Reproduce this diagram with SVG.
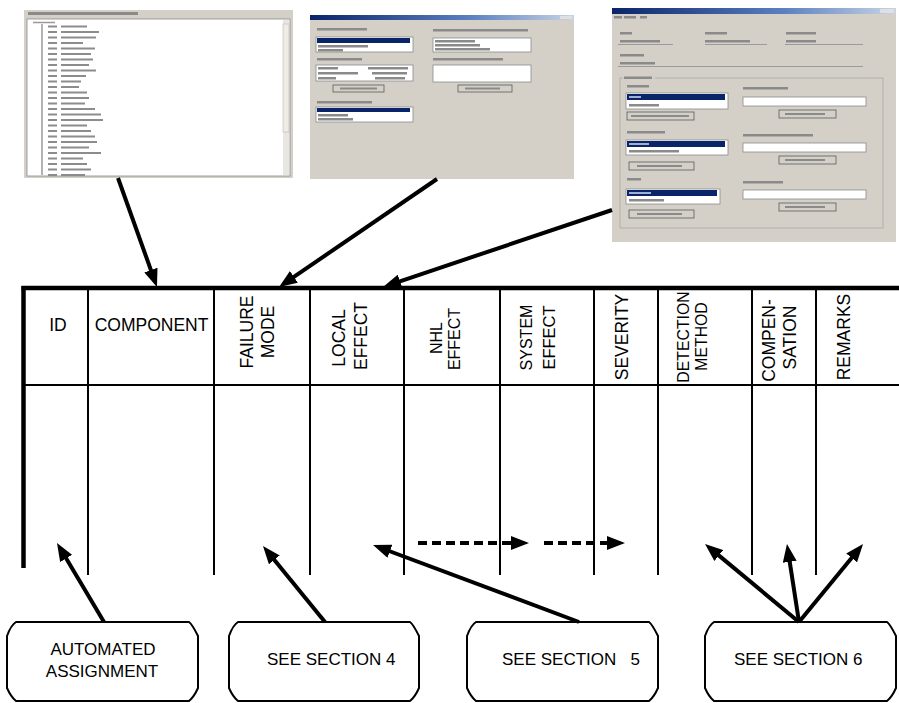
<svg xmlns="http://www.w3.org/2000/svg" width="899" height="703" viewBox="0 0 899 703">
<style>
.win{fill:#d4d0c8}
.wt{fill:#fff;stroke:#8a8a8a;stroke-width:0.8}
.tx{fill:#8a8a8a}
.sel{fill:#0a246a}
.btn{fill:#d4d0c8;stroke:#5a5a5a;stroke-width:0.8}
.thin{stroke:#000;stroke-width:2;fill:none}
.thick{stroke:#000;stroke-width:4.5;fill:none}
.hd{font-family:"Liberation Sans",Arial,sans-serif;font-size:17.5px;fill:#000}
.bt{font-family:"Liberation Sans",Arial,sans-serif;font-size:17px;fill:#000}
.box{fill:#fff;stroke:#000;stroke-width:2}
.arr{stroke:#000;stroke-width:4;fill:none;marker-end:url(#ah)}
.dash{stroke:#000;stroke-width:4;fill:none;stroke-dasharray:9 5;marker-end:url(#ah)}
</style>
<defs>
<linearGradient id="tb" x1="0" y1="0" x2="1" y2="0">
<stop offset="0" stop-color="#0a246a"/>
<stop offset="0.6" stop-color="#5a7fc0"/>
<stop offset="1" stop-color="#c8d4e4"/>
</linearGradient>
<marker id="ah" viewBox="0 0 18 14" markerWidth="18" markerHeight="14" markerUnits="userSpaceOnUse" refX="8" refY="7" orient="auto">
<path d="M0,0 L18,7 L0,14 z" fill="#000"/>
</marker>
</defs>
<rect width="899" height="703" fill="#fff"/>

<g id="screen1">
<rect class="win" x="24" y="10" width="269" height="168"/>
<rect class="tx" x="28" y="12" width="110" height="3"/>
<rect class="wt" x="27" y="19" width="263" height="157"/>
<rect x="283" y="20" width="6" height="155" fill="#e8e6e0"/>
<rect x="283" y="24" width="6" height="108" fill="#efece6" stroke="#b8b8b8" stroke-width="0.6"/>
<path d="M33,22.5 h22 M42,24 V175" stroke="#9a9a9a" stroke-width="1.5" fill="none"/>
<path d="M48,26.5h9M61,26.5h26 M48,32h9M61,32h38 M48,37.5h9M61,37.5h35 M48,43h9M61,43h22 M48,48.5h9M61,48.5h34 M48,54h9M61,54h30 M48,59.5h9M61,59.5h32 M48,65h9M61,65h28 M48,70.5h9M61,70.5h35 M48,76h9M61,76h25 M48,81.5h9M61,81.5h20 M48,87h9M61,87h18 M48,92.5h9M61,92.5h26 M48,98h9M61,98h28 M48,103.5h9M61,103.5h24 M48,109h9M61,109h34 M48,114.5h9M61,114.5h40 M48,120h9M61,120h42 M48,125.5h9M61,125.5h26 M48,131h9M61,131h30 M48,136.5h9M61,136.5h34 M48,142h9M61,142h36 M48,147.5h9M61,147.5h28 M48,153h9M61,153h40 M48,158.5h9M61,158.5h22 M48,164h9M61,164h26 M48,169.5h9M61,169.5h30 M48,175h9M61,175h24" stroke="#8c8c8c" stroke-width="2" fill="none"/>
</g>

<g id="screen2">
<rect class="win" x="310" y="15" width="264" height="164"/>
<rect x="310" y="15" width="264" height="5" fill="url(#tb)"/>
<rect x="560" y="16" width="12" height="3" fill="#e0e0e0"/>
<rect class="tx" x="317" y="28" width="50" height="2.5"/>
<rect class="wt" x="316" y="37" width="97" height="15"/>
<rect class="sel" x="317" y="38" width="93" height="5"/>
<rect class="tx" x="318" y="45" width="50" height="2.5"/>
<rect class="tx" x="318" y="49" width="25" height="2.5"/>
<rect class="tx" x="317" y="58" width="45" height="2.5"/>
<rect class="wt" x="316" y="65" width="97" height="16"/>
<rect class="tx" x="318" y="67" width="20" height="2.5"/>
<rect class="tx" x="368" y="67" width="40" height="2.5"/>
<rect class="tx" x="318" y="72" width="40" height="2.5"/>
<rect class="tx" x="372" y="72" width="35" height="2.5"/>
<rect class="tx" x="318" y="77" width="18" height="2.5"/>
<rect class="tx" x="375" y="77" width="30" height="2.5"/>
<rect class="btn" x="333" y="85" width="51" height="7"/>
<rect class="tx" x="340" y="87.5" width="37" height="2"/>
<rect class="tx" x="317" y="101" width="55" height="2.5"/>
<rect class="wt" x="316" y="107" width="97" height="15"/>
<rect class="sel" x="317" y="108" width="93" height="4"/>
<rect class="tx" x="318" y="114" width="30" height="2.5"/>
<rect class="tx" x="318" y="118" width="35" height="2.5"/>
<rect class="tx" x="433" y="29" width="95" height="2.5"/>
<rect class="wt" x="433" y="38" width="98" height="14"/>
<rect class="tx" x="435" y="40" width="40" height="2.5"/>
<rect class="tx" x="435" y="44" width="45" height="2.5"/>
<rect class="tx" x="435" y="48" width="55" height="2.5"/>
<rect class="tx" x="433" y="58" width="70" height="2.5"/>
<rect class="wt" x="433" y="65" width="98" height="17"/>
<rect class="btn" x="458" y="85" width="54" height="7"/>
<rect class="tx" x="465" y="87.5" width="35" height="2"/>
</g>

<g id="screen3">
<rect class="win" x="612" y="8" width="284" height="234"/>
<rect x="612" y="8" width="284" height="6" fill="url(#tb)"/>
<rect x="880" y="9" width="14" height="4" fill="#e0e0e0"/>
<rect class="tx" x="614" y="16" width="8" height="2.5"/>
<rect class="tx" x="624" y="16" width="12" height="2.5"/>
<rect class="tx" x="640" y="16" width="7" height="2.5"/>
<rect class="tx" x="620" y="32" width="12" height="2.5"/>
<rect class="tx" x="705" y="32" width="22" height="2.5"/>
<rect class="tx" x="786" y="32" width="30" height="2.5"/>
<rect class="tx" x="620" y="40" width="40" height="2.5"/>
<rect class="tx" x="705" y="40" width="45" height="2.5"/>
<rect class="tx" x="786" y="40" width="30" height="2.5"/>
<path d="M618,44.5H673M705,44.5H767M785,44.5H863M618,66.5H863" stroke="#9a9a9a" stroke-width="1" fill="none"/>
<rect class="tx" x="620" y="54" width="24" height="2.5"/>
<rect class="tx" x="620" y="62" width="35" height="2.5"/>
<rect x="620" y="78" width="263" height="150" fill="none" stroke="#a8a8a8" stroke-width="0.8"/>
<rect class="win" x="623" y="76" width="32" height="4"/>
<rect class="tx" x="624" y="76.5" width="28" height="2.5"/>
<rect class="tx" x="627" y="85" width="22" height="2.5"/>
<rect class="wt" x="626" y="93" width="102" height="16"/>
<rect class="sel" x="627" y="94" width="98" height="6"/>
<rect x="629" y="96" width="12" height="2" fill="#9fb0d0"/>
<rect class="tx" x="629" y="104" width="30" height="2.5"/>
<rect class="btn" x="627" y="112" width="67" height="8"/>
<rect class="tx" x="631" y="115" width="58" height="2"/>
<rect class="tx" x="627" y="131" width="38" height="2.5"/>
<rect class="wt" x="626" y="140" width="102" height="15"/>
<rect class="sel" x="627" y="141" width="98" height="6"/>
<rect x="629" y="143" width="20" height="2" fill="#9fb0d0"/>
<rect class="tx" x="629" y="150" width="50" height="2.5"/>
<rect class="btn" x="629" y="162" width="65" height="8"/>
<rect class="tx" x="637" y="165" width="45" height="2"/>
<rect class="tx" x="627" y="178" width="14" height="2.5"/>
<rect class="wt" x="626" y="189" width="94" height="15"/>
<rect class="sel" x="627" y="190" width="90" height="6"/>
<rect x="629" y="192" width="22" height="2" fill="#9fb0d0"/>
<rect class="tx" x="629" y="199" width="35" height="2.5"/>
<rect class="btn" x="629" y="210" width="65" height="8"/>
<rect class="tx" x="637" y="213" width="45" height="2"/>
<rect class="tx" x="743" y="87" width="45" height="2.5"/>
<rect class="wt" x="743" y="97" width="123" height="9"/>
<rect class="btn" x="779" y="110" width="57" height="8"/>
<rect class="tx" x="785" y="113" width="40" height="2"/>
<rect class="tx" x="743" y="134" width="70" height="2.5"/>
<rect class="wt" x="743" y="143" width="123" height="9"/>
<rect class="btn" x="779" y="156" width="57" height="8"/>
<rect class="tx" x="785" y="159" width="40" height="2"/>
<rect class="tx" x="743" y="181" width="40" height="2.5"/>
<rect class="wt" x="743" y="190" width="123" height="9"/>
<rect class="btn" x="779" y="203" width="57" height="8"/>
<rect class="tx" x="785" y="206" width="40" height="2"/>
</g>

<g id="table">
<path class="thick" d="M21.5,288H899"/>
<path class="thick" d="M23.5,286V568" stroke-width="4"/>
<path class="thin" d="M23,385H899 M88,288V575 M214,288V575 M310,288V575 M404,288V575 M500,288V575 M594,288V575 M658,288V575 M752,288V575 M816,288V575"/>
<text class="hd" x="58" y="331" text-anchor="middle">ID</text>
<text class="hd" x="151.5" y="331" text-anchor="middle">COMPONENT</text>
<text class="hd" text-anchor="middle" transform="translate(252.5,332) rotate(-90)">FAILURE</text>
<text class="hd" text-anchor="middle" transform="translate(273.5,332) rotate(-90)">MODE</text>
<text class="hd" text-anchor="middle" transform="translate(344.5,338) rotate(-90)">LOCAL</text>
<text class="hd" text-anchor="middle" transform="translate(366.5,336) rotate(-90)">EFFECT</text>
<text class="hd" text-anchor="middle" style="font-size:16px" transform="translate(441.5,338) rotate(-90)">NHL</text>
<text class="hd" text-anchor="middle" style="font-size:16px" transform="translate(459.5,339) rotate(-90)">EFFECT</text>
<text class="hd" text-anchor="middle" style="font-size:16px" transform="translate(532,337.5) rotate(-90)">SYSTEM</text>
<text class="hd" text-anchor="middle" style="font-size:16.5px" transform="translate(554.5,337.5) rotate(-90)">EFFECT</text>
<text class="hd" text-anchor="middle" transform="translate(628,337) rotate(-90)">SEVERITY</text>
<text class="hd" text-anchor="middle" style="font-size:15.8px" transform="translate(688.5,337) rotate(-90)">DETECTION</text>
<text class="hd" text-anchor="middle" style="font-size:15.8px" transform="translate(707,336.5) rotate(-90)">METHOD</text>
<text class="hd" text-anchor="middle" transform="translate(775,340.5) rotate(-90)">COMPEN-</text>
<text class="hd" text-anchor="middle" transform="translate(796,337.5) rotate(-90)">SATION</text>
<text class="hd" text-anchor="middle" transform="translate(850,337) rotate(-90)">REMARKS</text>
</g>

<g id="box-automated">
<path class="box" d="M16,622 H189 Q192,624 198,636 V688 Q194,697 189,701 H16 Q11,697 7,688 V636 Q11,625 16,622 Z"/>
<text class="bt" x="103" y="655" text-anchor="middle">AUTOMATED</text>
<text class="bt" x="102" y="677" text-anchor="middle">ASSIGNMENT</text>
</g>
<g id="box-section4">
<path class="box" d="M238,622 H410 Q413,624 419,636 V688 Q415,697 410,701 H238 Q233,697 229,688 V636 Q233,625 238,622 Z"/>
<text class="bt" x="267" y="665">SEE SECTION 4</text>
</g>
<g id="box-section5">
<path class="box" d="M476,622 H649 Q652,624 658,636 V688 Q654,697 649,701 H476 Q471,697 467,688 V636 Q471,625 476,622 Z"/>
<text class="bt" x="502" y="665">SEE SECTION</text>
<text class="bt" x="640" y="665" text-anchor="end">5</text>
</g>
<g id="box-section6">
<path class="box" d="M714,622 H887 Q890,624 896,636 V688 Q892,697 887,701 H714 Q709,697 705,688 V636 Q709,625 714,622 Z"/>
<text class="bt" x="734" y="665">SEE SECTION 6</text>
</g>

<g id="connectors">
<path class="arr" d="M118,178 L153.6,277.6"/>
<path class="arr" d="M437,179 L287.3,281.4"/>
<path class="arr" d="M612,210 L392.5,283.8"/>
<path class="arr" d="M104,622 L62.1,551.6"/>
<path class="arr" d="M325,622 L269.3,553.7"/>
<path class="arr" d="M579,622 L382.4,548.5"/>
<path class="arr" d="M799,622 L712.7,550.4"/>
<path class="arr" d="M799,622 L788.5,553.9"/>
<path class="arr" d="M799,622 L856.7,551.7"/>
<path class="dash" d="M418,543 H519"/>
<path class="dash" d="M544,543 H615"/>
</g>
</svg>
